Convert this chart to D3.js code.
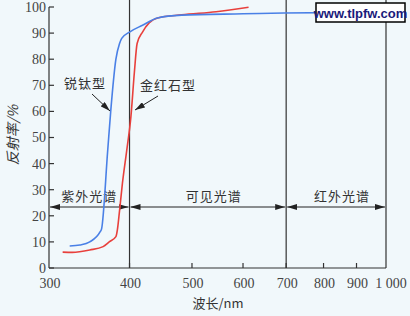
<!DOCTYPE html>
<html>
<head>
<meta charset="utf-8">
<script src="https://cdn.jsdelivr.net/npm/d3@7"></script>
<style>
  body { margin: 0; background: #f1f8fb; }
  svg { display: block; }
</style>
</head>
<body>
<div id="chart"></div>
<script>
// Anatase (blue) curve: wavelength nm, reflectance %
const anataseWl = [323, 335, 347, 360, 362, 370, 374, 381, 386, 389, 400, 419, 442, 482, 600, 694, 1000];
const anataseR  = [8.4, 8.8, 10, 13.8, 15, 45, 60, 80, 86, 88, 90.4, 93, 95.8, 96.9, 97.4, 97.7, 98];

// Rutile (red) curve
const rutileWl = [315, 326, 347, 364, 372, 381, 383, 386, 390, 396, 402, 407, 411, 419, 429, 442, 482, 545, 612];
const rutileR  = [6.1, 6.0, 6.9, 8.2, 10, 12, 14.6, 22, 32.5, 45, 58, 75, 86, 90.4, 93.9, 95.8, 97, 98.2, 99.9];

const yTicks = [0, 10, 20, 30, 40, 50, 60, 70, 80, 90, 100];
const xTicks = [300, 400, 500, 600, 700, 800, 900, 1000];
const xTickLabels = ["300", "400", "500", "600", "700", "800", "900", "1 000"];
const boundaries = [400, 700, 1000];

const regions = [
  { name: "紫外光谱", from: 300, to: 400 },
  { name: "可见光谱", from: 400, to: 700 },
  { name: "红外光谱", from: 700, to: 1000 }
];

const width = 410, height = 316;

const x = d3.scaleLog().domain([300, 1000]).range([49, 386]);
const y = d3.scaleLinear().domain([0, 100]).range([268, 7]);

const svg = d3.select("#chart").append("svg")
  .attr("width", width)
  .attr("height", height);

svg.append("rect").attr("width", width).attr("height", height).attr("fill", "#f1f8fb");

const defs = svg.append("defs");
defs.append("marker")
  .attr("id", "head")
  .attr("viewBox", "0 0 10 6")
  .attr("refX", 10).attr("refY", 3)
  .attr("markerWidth", 10).attr("markerHeight", 6)
  .attr("markerUnits", "userSpaceOnUse")
  .attr("orient", "auto-start-reverse")
  .append("path").attr("d", "M0,0 L10,3 L0,6 Z").attr("fill", "#222");

const axisColor = "#333";

// boundary lines
svg.append("g").selectAll("line")
  .data(boundaries)
  .enter().append("line")
  .attr("x1", d => x(d)).attr("x2", d => x(d))
  .attr("y1", 0).attr("y2", y(0))
  .attr("stroke", axisColor).attr("stroke-width", 1.2);

// y axis
const yAxis = svg.append("g").attr("transform", `translate(${x(300)},0)`);
yAxis.append("line").attr("y1", y(100)).attr("y2", y(0)).attr("stroke", axisColor).attr("stroke-width", 1.2);
yAxis.selectAll(".tk").data(yTicks).enter().append("line")
  .attr("x1", 0).attr("x2", 5)
  .attr("y1", d => y(d)).attr("y2", d => y(d))
  .attr("stroke", axisColor).attr("stroke-width", 1.2);
yAxis.selectAll("text").data(yTicks).enter().append("text")
  .attr("x", -3).attr("y", d => y(d)).attr("dy", "0.35em")
  .attr("text-anchor", "end")
  .attr("font-family", "Liberation Serif, serif")
  .attr("font-size", "14px").attr("fill", "#444")
  .text(d => d);

// x axis
const xAxis = svg.append("g").attr("transform", `translate(0,${y(0)})`);
xAxis.append("line").attr("x1", x(300)).attr("x2", x(1000)).attr("stroke", axisColor).attr("stroke-width", 1.2);
xAxis.selectAll(".tk").data(xTicks.slice(1, -1)).enter().append("line")
  .attr("x1", d => x(d)).attr("x2", d => x(d))
  .attr("y1", 0).attr("y2", -5)
  .attr("stroke", axisColor).attr("stroke-width", 1.2);
xAxis.selectAll("text").data(xTicks).enter().append("text")
  .attr("x", (d, i) => x(d) + (i === xTicks.length - 1 ? 5 : 1))
  .attr("y", 20)
  .attr("text-anchor", "middle")
  .attr("font-family", "Liberation Serif, serif")
  .attr("font-size", "14px").attr("fill", "#444")
  .text((d, i) => xTickLabels[i]);

// axis titles
svg.append("text")
  .attr("x", 218).attr("y", 308)
  .attr("text-anchor", "middle")
  .attr("font-family", "Noto Sans CJK SC, sans-serif")
  .attr("font-size", "13px").attr("fill", "#333")
  .text("波长/nm");

svg.append("text")
  .attr("transform", "translate(18,135) rotate(-90)")
  .attr("text-anchor", "middle")
  .attr("font-family", "Noto Sans CJK SC, sans-serif")
  .attr("font-size", "14px").attr("font-style", "italic").attr("fill", "#333")
  .text("反射率/%");

// spectrum regions
const regionY = 207;
const reg = svg.append("g");
reg.selectAll("line").data(regions).enter().append("line")
  .attr("x1", d => x(d.from) + 1).attr("x2", d => x(d.to) - 1)
  .attr("y1", regionY).attr("y2", regionY)
  .attr("stroke", "#222").attr("stroke-width", 1)
  .attr("marker-start", "url(#head)")
  .attr("marker-end", "url(#head)");
reg.selectAll("text").data(regions).enter().append("text")
  .attr("x", (d, i) => (x(d.from) + x(d.to)) / 2 + (i === 0 ? 0 : 6))
  .attr("y", regionY - 6)
  .attr("text-anchor", "middle")
  .attr("font-family", "Noto Sans CJK SC, sans-serif")
  .attr("font-size", "13px").attr("fill", "#333")
  .attr("letter-spacing", "1px")
  .text(d => d.name);

// curves
const line = d3.line()
  .x(d => x(d[0]))
  .y(d => y(d[1]))
  .curve(d3.curveMonotoneX);

svg.append("path")
  .datum(d3.zip(rutileWl, rutileR))
  .attr("d", line)
  .attr("fill", "none").attr("stroke", "#e8403c").attr("stroke-width", 1.6);

svg.append("path")
  .datum(d3.zip(anataseWl, anataseR))
  .attr("d", line)
  .attr("fill", "none").attr("stroke", "#4a80e6").attr("stroke-width", 1.6);

// annotations
const notes = [
  { text: "锐钛型", tx: 85, ty: 88, from: [92, 94], to: [110, 111] },
  { text: "金红石型", tx: 168, ty: 90, from: [158, 96], to: [135, 110] }
];
const ann = svg.append("g");
ann.selectAll("text").data(notes).enter().append("text")
  .attr("x", d => d.tx).attr("y", d => d.ty)
  .attr("text-anchor", "middle")
  .attr("font-family", "Noto Sans CJK SC, sans-serif")
  .attr("font-size", "13px").attr("fill", "#333")
  .attr("letter-spacing", "1px")
  .text(d => d.text);
ann.selectAll("line").data(notes).enter().append("line")
  .attr("x1", d => d.from[0]).attr("y1", d => d.from[1])
  .attr("x2", d => d.to[0]).attr("y2", d => d.to[1])
  .attr("stroke", "#222").attr("stroke-width", 1)
  .attr("marker-end", "url(#head)");

// watermark
const wm = svg.append("g");
wm.append("rect").attr("x", 316).attr("y", 3).attr("width", 89).attr("height", 19)
  .attr("fill", "#fff").attr("stroke", "#000").attr("stroke-width", 1.5);
wm.append("text").attr("x", 360.5).attr("y", 17.5)
  .attr("text-anchor", "middle")
  .attr("font-family", "Liberation Sans, Arial, sans-serif")
  .attr("font-weight", "bold").attr("font-size", "13px").attr("fill", "#1a1a7a")
  .text("www.tlpfw.com");
</script>
</body>
</html>
